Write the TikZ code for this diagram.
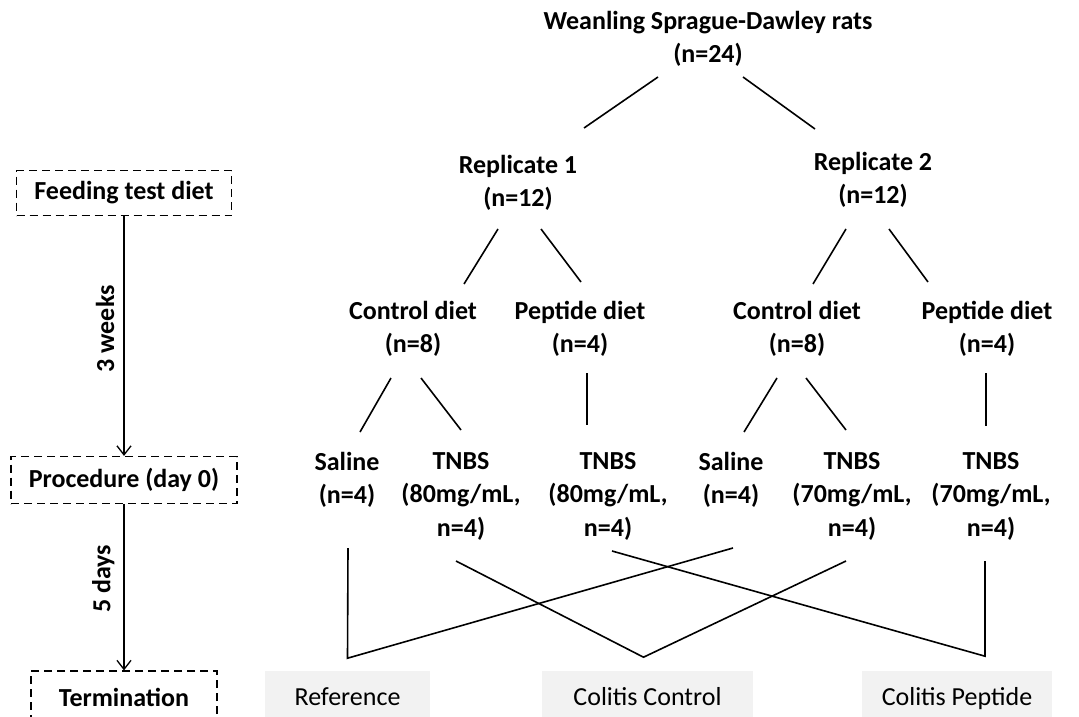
\documentclass[tikz,border=0pt]{standalone}
\usepackage{fontspec}
\setmainfont{Carlito}
\usetikzlibrary{arrows.meta}
\definecolor{boxgray}{HTML}{F2F2F2}
\begin{document}
\begin{tikzpicture}[x=1pt, y=-1pt, line width=1.6pt,
    grp/.style={font=\bfseries\fontsize{26}{33.5}\selectfont, align=center, inner sep=0pt},
    phase/.style={draw, line width=1.2pt, dash pattern=on 8pt off 5pt, font=\bfseries\fontsize{26}{30}\selectfont, inner sep=0pt},
    outcome/.style={fill=boxgray, font=\fontsize{26}{30}\selectfont, text height=19pt, text depth=4pt, minimum height=54pt, inner sep=0pt},
    timeline/.style={-{Straight Barb[length=9pt,width=14pt]}, line width=1.3pt}]
    \clip (0,0) rectangle (1079,717);
    \useasboundingbox (0,0) rectangle (1079,717);
    % tree of groups
    \node[grp] (wean) at (708,39) {Weanling Sprague-Dawley rats\\(n=24)};
    \node[grp] (repA) at (518,183) {Replicate 1\\(n=12)};
    \node[grp] (repB) at (873,180) {Replicate 2\\(n=12)};
    \node[grp] (ctlA) at (413,329) {Control diet\\(n=8)};
    \node[grp] (pepA) at (580,329) {Peptide diet\\(n=4)};
    \node[grp] (ctlB) at (797,329) {Control diet\\(n=8)};
    \node[grp] (pepB) at (987,329) {Peptide diet\\(n=4)};
    \node[grp] (salA) at (347,480) {Saline\\(n=4)};
    \node[grp] (tnbsA) at (461,496) {TNBS\\(80mg/mL,\\n=4)};
    \node[grp] (tnbsB) at (608,496) {TNBS\\(80mg/mL,\\n=4)};
    \node[grp] (salB) at (731,480) {Saline\\(n=4)};
    \node[grp] (tnbsC) at (852,496) {TNBS\\(70mg/mL,\\n=4)};
    \node[grp] (tnbsD) at (991,496) {TNBS\\(70mg/mL,\\n=4)};
    \draw ([shift={(-50,38)}]wean.center) -- ([shift={(66,-55)}]repA.center);
    \draw ([shift={(35,38)}]wean.center) -- ([shift={(-58,-51)}]repB.center);
    \draw ([shift={(-20,46)}]repA.center) -- ([shift={(51,-45)}]ctlA.center);
    \draw ([shift={(23,46)}]repA.center) -- ([shift={(1,-47)}]pepA.center);
    \draw ([shift={(-27,49)}]repB.center) -- ([shift={(16,-45)}]ctlB.center);
    \draw ([shift={(16,49)}]repB.center) -- ([shift={(-59,-47)}]pepB.center);
    \draw ([shift={(-22,49)}]ctlA.center) -- ([shift={(13,-48)}]salA.center);
    \draw ([shift={(8,49)}]ctlA.center) -- ([shift={(0,-66)}]tnbsA.center);
    \draw ([shift={(7,44)}]pepA.center) -- ([shift={(-21,-71)}]tnbsB.center);
    \draw ([shift={(-20,49)}]ctlB.center) -- ([shift={(13,-48)}]salB.center);
    \draw ([shift={(9,49)}]ctlB.center) -- ([shift={(-6,-66)}]tnbsC.center);
    \draw ([shift={(-1,44)}]pepB.center) -- ([shift={(-5,-70)}]tnbsD.center);
    % outcome groups
    \node[outcome, minimum width=165pt] (ref) at (347.5,698) {Reference};
    \node[outcome, minimum width=211pt] (colc) at (647.5,698) {Colitis Control};
    \node[outcome, minimum width=190pt] (colp) at (957,698) {Colitis Peptide};
    \coordinate (refpt) at ([shift={(0,-12)}]ref.north);
    \coordinate (colcpt) at ([shift={(-4,-13)}]colc.north);
    \coordinate (colppt) at ([shift={(28,-14)}]colp.north);
    \draw ([shift={(1,68)}]salA.center) -- (refpt) -- ([shift={(2,68)}]salB.center);
    \draw ([shift={(-5,65)}]tnbsA.center) -- (colcpt) -- ([shift={(-6,65)}]tnbsC.center);
    \draw ([shift={(4,55)}]tnbsB.center) -- (colppt) -- ([shift={(-6,65)}]tnbsD.center);
    % timeline
    \node[phase, minimum width=215pt, minimum height=45pt] (feed) at (124,193) {Feeding test diet};
    \node[phase, minimum width=226pt, minimum height=47pt] (proc) at (124,480) {Procedure (day 0)};
    \node[phase, minimum width=186pt, minimum height=52pt] (term) at (124,697) {Termination};
    \draw[timeline] (feed) -- node[pos=0.47, rotate=90, above, grp, inner sep=9pt] {3 weeks} (proc);
    \draw[timeline] (proc) -- node[pos=0.45, rotate=90, above, grp, inner sep=9pt] {5 days} (term);
\end{tikzpicture}
\end{document}
